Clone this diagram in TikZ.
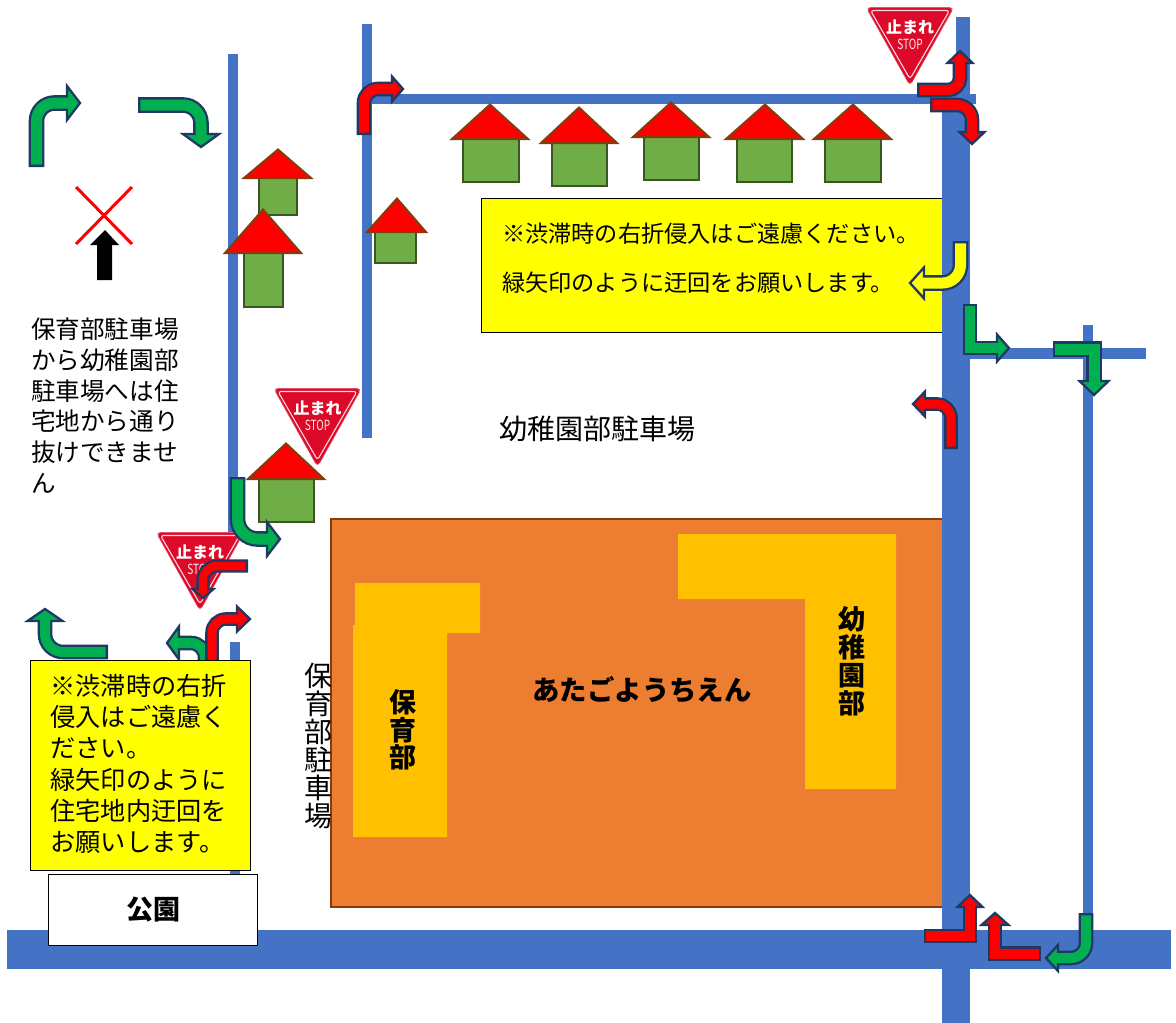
\documentclass[tikz,border=0pt]{standalone}
\usepackage{fontspec}
\setmainfont{Noto Sans CJK JP}
\definecolor{road}{HTML}{4472C4}
\definecolor{edgenavy}{HTML}{1F3864}
\definecolor{arrgreen}{HTML}{00B050}
\definecolor{arrred}{HTML}{FF0000}
\definecolor{arryellow}{HTML}{FFFF00}
\definecolor{roofbrown}{HTML}{843C0C}
\definecolor{bodygreen}{HTML}{70AD47}
\definecolor{bodyedge}{HTML}{385723}
\definecolor{buildorange}{HTML}{ED7D31}
\definecolor{gold}{HTML}{FFC000}
\definecolor{signred}{HTML}{DC0A28}
\tikzset{
  roadbar/.style={fill=road,draw=none},
  roofshape/.style={fill=arrred,draw=roofbrown,line width=2pt,line join=miter},
  bodyshape/.style={fill=bodygreen,draw=bodyedge,line width=2.2pt},
  notebox/.style={fill=arryellow,draw=black,line width=1pt},
  label/.style={inner sep=0pt,outer sep=0pt,text=black},
  wing/.style={gold,fill=gold,draw=none}
}
% colour, path, base of head, angle, shaft width, head half width, head length, radius
\newcommand\turnarrow[8]{%
  \draw[edgenavy,line width=#5pt+4.6pt,rounded corners=#8pt] #2;
  \begin{scope}[shift={(#3)},rotate=#4]
    \draw[fill=#1,draw=edgenavy,line width=2.3pt,line join=miter] (0,#6) -- (#7,0) -- (0,-#6) -- cycle;
  \end{scope}
  \draw[#1,line width=#5pt,rounded corners=#8pt,shorten <=2.3pt,shorten >=-2.5pt] #2;
}
% name, centre x, top y
\newcommand\stopsign[3]{%
  \begin{scope}[shift={(#2,#3)}]
    \fill[signred!70!white,rounded corners=5pt] (-44.5,0) -- (44.5,0) -- (0,79.5) -- cycle;
    \fill[signred,rounded corners=4pt] (-43,1) -- (43,1) -- (0,78) -- cycle;
    \draw[white!85!signred,line width=1.1pt,rounded corners=3pt] (-39.5,3.5) -- (39.5,3.5) -- (0,72) -- cycle;
    \node[inner sep=0pt,text=white,font=\fontsize{16}{16}\selectfont\bfseries] (#1a) at (0,20) {止まれ};
    \node[inner sep=0pt,text=white!90!signred,font=\fontsize{14}{14}\selectfont] (#1b) at (0,37) {\scalebox{.72}[1]{STOP}};
  \end{scope}
}
% roof left, roof right, apex x, apex y, roof y, body left, body right, body bottom
\newcommand\house[8]{%
  \draw[bodyshape] (#6,#5) rectangle (#7,#8);
  \draw[roofshape] ({#1+1},#5) -- ({#2-1},#5) -- (#3,{#4+0.5}) -- cycle;
}
\begin{document}
\begin{tikzpicture}[x=1pt,y=-1pt]
\useasboundingbox (0,0) rectangle (1176,1023);
\fill[white] (0,0) rectangle (1176,1023);

% building
\draw[fill=buildorange,draw=roofbrown,line width=2pt] (331,519) rectangle (950,907);
\fill[wing] (355,583) -- (480,583) -- (480,633) -- (447,633) -- (447,837) -- (353,837) -- (353,625) -- (355,625) -- cycle;
\fill[wing] (678,534) -- (896,534) -- (896,789) -- (805,789) -- (805,599) -- (678,599) -- cycle;

% roads
\fill[roadbar] (228,54) rectangle (238,538);
\fill[roadbar] (230,642) rectangle (240,880);
\fill[roadbar] (362,24) rectangle (372,438);
\fill[roadbar] (362,94) rectangle (976,104);
\fill[roadbar] (956,17) rectangle (970,94);
\fill[roadbar] (942,94) rectangle (970,1023);
\fill[roadbar] (970,348) rectangle (1146,359);
\fill[roadbar] (1083,325) rectangle (1093,930);
\fill[roadbar] (7,930) rectangle (1171,969);

% signs
\stopsign{signa}{910}{7}
\stopsign{signb}{317.5}{388}
\stopsign{signc}{200}{532}

% houses
\house{451}{529}{490}{104}{139}{463}{519}{182}
\house{540}{618}{579}{107}{143}{552}{607}{186}
\house{632}{710}{671}{102}{137}{644}{699}{180}
\house{725}{804}{765}{104}{139}{737}{792}{182}
\house{813}{892}{853}{104}{139}{825}{881}{182}
\house{243}{312}{278}{149}{178}{259}{297}{215}
\house{224}{302}{263}{209}{253}{244}{283}{307}
\house{366}{427}{397}{198}{232}{375}{416}{263}
\house{247}{325}{286}{443}{479}{259}{314}{522}

% cross and black arrow
\fill[black] (105,230) -- (119,245) -- (112,245) -- (112,280) -- (97,280) -- (97,245) -- (90,245) -- cycle;
\draw[arrred,line width=3pt] (76,187) -- (132,244);
\draw[arrred,line width=3pt] (132,187) -- (76,244);

% bent arrows
\turnarrow{arrgreen}{(36.5,167) -- (36.5,103) -- (67,103)}{67,103}{0}{11}{17}{13}{18}
\turnarrow{arrgreen}{(138,105) -- (201,105) -- (201,134)}{201,134}{270}{11}{18}{13}{18}
\turnarrow{arrred}{(364,135) -- (364,89) -- (392,89)}{392,89}{0}{10}{12.5}{11}{14}
\turnarrow{arrred}{(917,90) -- (960,90) -- (960,63)}{960,63}{90}{10}{12.5}{12}{12}
\turnarrow{arrred}{(930,105) -- (972,105) -- (972,132)}{972,132}{270}{10}{12.5}{12}{15}
\turnarrow{arrgreen}{(970,304) -- (970,348) -- (997,348)}{997,348}{0}{9.5}{13.5}{12}{0}
\turnarrow{arrgreen}{(1053,349) -- (1094,349) -- (1094,381)}{1094,381}{270}{11}{14.5}{14}{0}
\turnarrow{arrred}{(951,449) -- (951,404) -- (925,404)}{925,404}{180}{9}{12.5}{12}{14}
\turnarrow{arrred}{(924,936) -- (970,936) -- (970,907)}{970,907}{90}{10}{12.5}{12}{0}
\turnarrow{arrred}{(1041,953.5) -- (995,953.5) -- (995,925)}{995,925}{90}{10}{13.5}{12}{0}
\turnarrow{arrgreen}{(1086,913) -- (1086,958) -- (1058,958)}{1058,958}{180}{10}{13}{12}{15}
\turnarrow{arrgreen}{(237.5,477) -- (237.5,539) -- (267,539)}{267,539}{0}{11}{17}{13}{20}
\turnarrow{arrred}{(248,566) -- (203,566) -- (203,589)}{203,589}{270}{8.5}{10.5}{9}{14}
\turnarrow{arrgreen}{(205,672) -- (205,643) -- (179,643)}{179,643}{180}{10}{16.5}{12}{14}
\turnarrow{arrred}{(212,672) -- (212,619) -- (237,619)}{237,619}{0}{9}{12.5}{13}{14}
\turnarrow{arrgreen}{(108,652) -- (45,652) -- (45,621)}{45,621}{90}{10}{17.5}{12}{18}

% boxes
\fill[arryellow] (481,198) rectangle (942,332);
\draw[black,line width=1pt] (942,198) -- (481,198) -- (481,332) -- (942,332);
\turnarrow{arryellow}{(960.5,241) -- (960.5,283) -- (924,283)}{924,283}{180}{11}{15.5}{14}{18}
\draw[notebox] (30,660) rectangle (250,870);
\node[draw=black,fill=white,line width=1pt,minimum width=209.5pt,minimum height=71pt,inner sep=0pt,font=\fontsize{27}{27}\selectfont\bfseries] (park) at (153,909.5) {公園};

% texts
\node[label,anchor=west,font=\fontsize{23.2}{23.2}\selectfont] (noteA) at (502,234) {※渋滞時の右折侵入はご遠慮ください。};
\node[label,anchor=west,font=\fontsize{23.2}{23.2}\selectfont] (noteB) at (502,283) {緑矢印のように迂回をお願いします。};
\node[label,anchor=north west,align=left,font=\fontsize{25.2}{31.3}\selectfont] (noteC) at (50.5,674) {※渋滞時の右折\\侵入はご遠慮く\\ださい。\\緑矢印のように\\住宅地内迂回を\\お願いします。};
\node[label,anchor=north west,align=left,font=\fontsize{24.6}{30.9}\selectfont] (noteD) at (31,317.5) {保育部駐車場\\から幼稚園部\\駐車場へは住\\宅地から通り\\抜けできませ\\ん};
\node[label,anchor=west,font=\fontsize{28}{28}\selectfont] (lotK) at (499,429) {幼稚園部駐車場};
\node[label,align=center,font=\fontsize{28}{28}\selectfont] (lotH) at (318,746) {保\\育\\部\\駐\\車\\場};
\node[label,align=center,font=\fontsize{27}{27.5}\selectfont\bfseries] (wingH) at (402.5,730) {保\\育\\部};
\node[label,align=center,font=\fontsize{27}{28}\selectfont\bfseries] (wingK) at (852,661) {幼\\稚\\園\\部};
\node[label,anchor=west,font=\fontsize{27.4}{27.4}\selectfont\bfseries] (school) at (532.5,690) {あたごようちえん};
\end{tikzpicture}
\end{document}
